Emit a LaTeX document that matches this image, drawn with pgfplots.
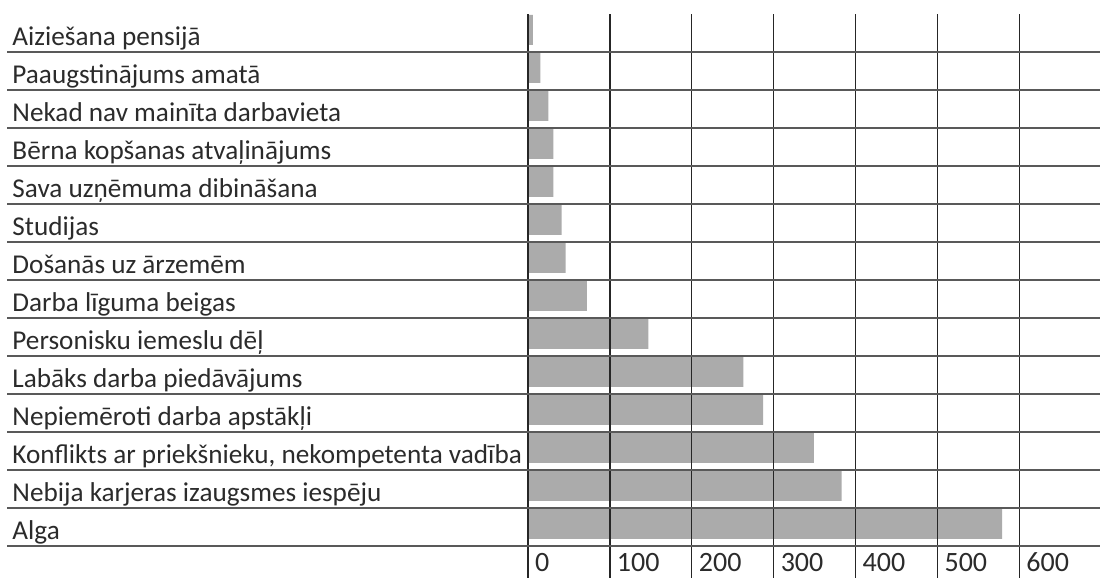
\documentclass[border=0pt]{standalone}
\usepackage{pgfplots}
\pgfplotsset{compat=1.18}
\usepackage{fontspec}
\setmainfont{Carlito}
\definecolor{barcol}{HTML}{ABABAB}
\definecolor{txtcol}{HTML}{2B2B2B}
\begin{document}
\begin{tikzpicture}
\useasboundingbox (0pt,0pt) rectangle (550pt,289pt);
\begin{axis}[
  at={(3.5pt,0pt)}, anchor=south west,
  scale only axis,
  width=546.5pt, height=282pt,
  xmin=-636.1, xmax=698.4,
  ymin=-1.342, ymax=13.5,
  axis line style={draw=none},
  major tick length=0pt, minor tick length=0pt,
  xtick={0,100,200,300,400,500,600},
  /pgf/number format/assume math mode=true,
  xticklabel style={anchor=base west, yshift=3pt, font=\fontsize{14}{16}\selectfont, text=txtcol},
  ytick={0,...,13},
  yticklabels={Alga,
    Nebija karjeras izaugsmes iespēju,
    {Konflikts ar priekšnieku, nekompetenta vadība},
    Nepiemēroti darba apstākļi,
    Labāks darba piedāvājums,
    Personisku iemeslu dēļ,
    Darba līguma beigas,
    Došanās uz ārzemēm,
    Studijas,
    Sava uzņēmuma dibināšana,
    Bērna kopšanas atvaļinājums,
    Nekad nav mainīta darbavieta,
    Paaugstinājums amatā,
    Aiziešana pensijā},
  yticklabel style={anchor=base west, xshift=-0.8pt, yshift=-6.2pt, font=\fontsize{13.6}{15}\selectfont, text=txtcol},
  minor ytick={-0.5,0.5,...,12.5},
  xmajorgrids=true, ymajorgrids=false, yminorgrids=true,
  major grid style={draw=black!85, line width=0.7pt},
  minor grid style={draw=black!65, line width=0.55pt},
  axis on top,
]
\addplot[xbar, fill=barcol, draw=none, bar width=0.79, bar shift=0.08]
  coordinates {
    (579,0) (383,1) (349,2) (287,3) (263,4) (147,5) (72,6)
    (46,7) (41,8) (31,9) (31,10) (25,11) (15,12) (6,13)
  };
\end{axis}
\end{tikzpicture}
\end{document}
